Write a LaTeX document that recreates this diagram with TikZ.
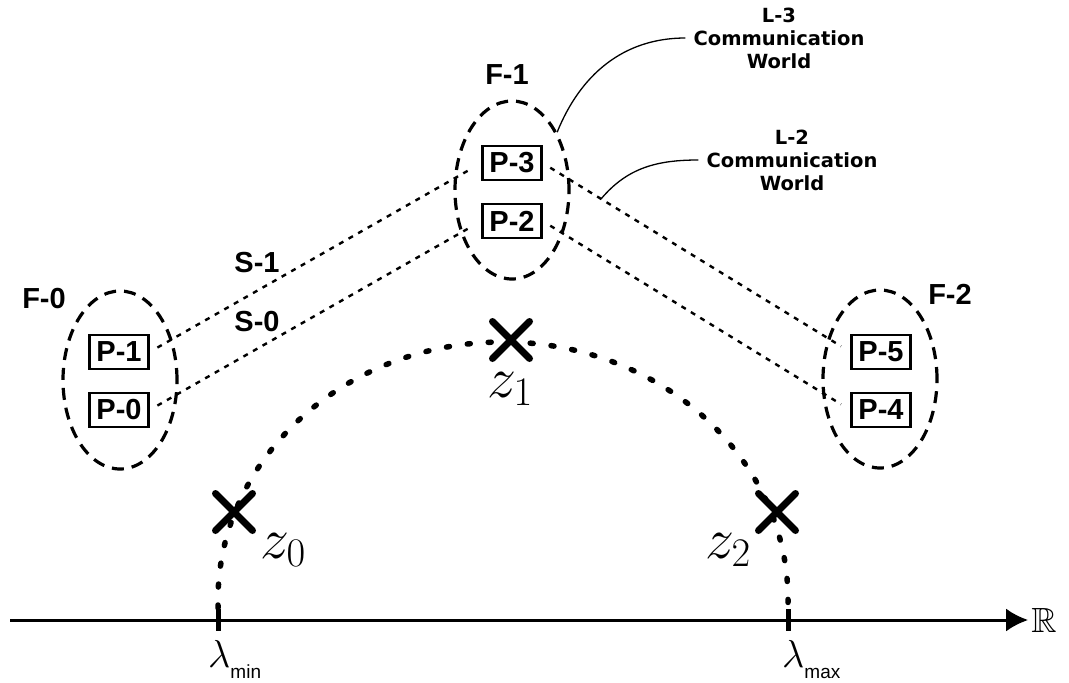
\RequirePackage{fix-cm}
\documentclass[tikz,border=0pt]{standalone}
\usepackage{amssymb}
\usepackage{fontspec}
\setsansfont{Liberation Sans}
\newfontfamily\dejafont{DejaVu Sans}
\font\bbfont=msbm10 at 35pt
\usetikzlibrary{shapes.geometric,shapes.misc,arrows.meta}

\begin{document}
\begin{tikzpicture}[x=1pt, y=-1pt,
    lab/.style={inner sep=0pt, font=\fontsize{29}{29}\selectfont\sffamily\bfseries},
    proc/.style={draw, line width=2.2pt, minimum width=59pt, minimum height=34pt,
        inner sep=0pt, font=\fontsize{29}{29}\selectfont\sffamily\bfseries},
    grp/.style={ellipse, draw, line width=3.2pt, dash pattern=on 12pt off 8pt,
        minimum width=114pt, minimum height=178pt, inner sep=0pt},
    link/.style={line width=2.4pt, dash pattern=on 5pt off 6pt, shorten <=9pt, shorten >=11pt},
    pole/.style={cross out, draw, line width=7pt, line cap=round, minimum size=30pt, inner sep=0pt},
    world/.style={align=center, inner sep=8pt,
        font=\fontsize{19.5}{23}\selectfont\dejafont\bfseries},
    arcdot/.style={line width=5.5pt, line cap=round, dash pattern=on 3pt off 18pt},
    zlab/.style={inner sep=0pt, font=\fontsize{58}{58}\selectfont},
    llab/.style={inner sep=0pt, font=\fontsize{39}{39}\selectfont}]
    % 1. Khung hinh
    \useasboundingbox (0,0) rectangle (1069,683);

    % 2. Truc so thuc
    \coordinate (ax0) at (10,620);
    \coordinate (lmin) at (218,620);
    \coordinate (lmax) at (788,620);
    \node[inner sep=3pt, font=\bbfont] (reals) at (1044,620) {R};
    \draw[line width=3pt, -{Latex[length=22pt, width=23pt]}] (ax0) -- (reals.west);
    \draw[line width=5pt] (lmin) ++(0,-11) -- ++(0,22);
    \draw[line width=5pt] (lmax) ++(0,-11) -- ++(0,22);
    \node[llab, anchor=base west] (tmin) at (208,667)
        {$\lambda_{\raisebox{-6pt}{\fontsize{19}{19}\selectfont\sffamily min}}$};
    \node[llab, anchor=base west] (tmax) at (782,667)
        {$\lambda_{\raisebox{-6pt}{\fontsize{19}{19}\selectfont\sffamily max}}$};

    % 3. Cung cham va cac diem z
    \draw[arcdot] (lmin) ++(0,-12) -- ++(0,-8)
        arc[start angle=180, end angle=360, x radius=285, y radius=258] -- ++(0,8);
    \node[pole] (z0) at (234,512) {};
    \node[pole] (z1) at (511,340) {};
    \node[pole] (z2) at (777,512) {};
    \node[zlab, anchor=base west] (tz0) at (260,558) {$z_0$};
    \node[zlab, anchor=base] (tz1) at (510,397) {$z_1$};
    \node[zlab, anchor=base west] (tz2) at (705,558) {$z_2$};

    % 4. Cac nhom F va tien trinh P
    \node[grp] (f0) at (120,380) {};
    \node[grp] (f1) at (512,190) {};
    \node[grp] (f2) at (880,379) {};
    \node[lab] (tf0) at (44,299) {F-0};
    \node[lab] (tf1) at (507,75) {F-1};
    \node[lab] (tf2) at (950,294) {F-2};

    \node[proc] (p1) at (119,352) {P-1};
    \node[proc] (p0) at (119,410) {P-0};
    \node[proc] (p3) at (512,163) {P-3};
    \node[proc] (p2) at (512,221) {P-2};
    \node[proc] (p5) at (881,352) {P-5};
    \node[proc] (p4) at (881,410) {P-4};

    % 5. Duong noi (cham)
    \draw[link] (p1.east) -- (p3.west);
    \draw[link] (p0.east) -- (p2.west);
    \draw[link] (p3.east) -- (p5.west) coordinate[pos=0.19] (w2);
    \draw[link] (p2.east) -- (p4.west);
    \node[lab] (s1) at (257,263) {S-1};
    \node[lab] (s0) at (257,322) {S-0};

    % 6. Chu thich communication world
    \node[world] (l3) at (779,38) {L-3\\Communication\\World};
    \node[world] (l2) at (792,160) {L-2\\Communication\\World};
    \draw[line width=1.3pt] (l3.west) to[out=180, in=68] (f1.52);
    \draw[line width=1.3pt] (l2.west) to[out=180, in=50] (w2);
\end{tikzpicture}
\end{document}
